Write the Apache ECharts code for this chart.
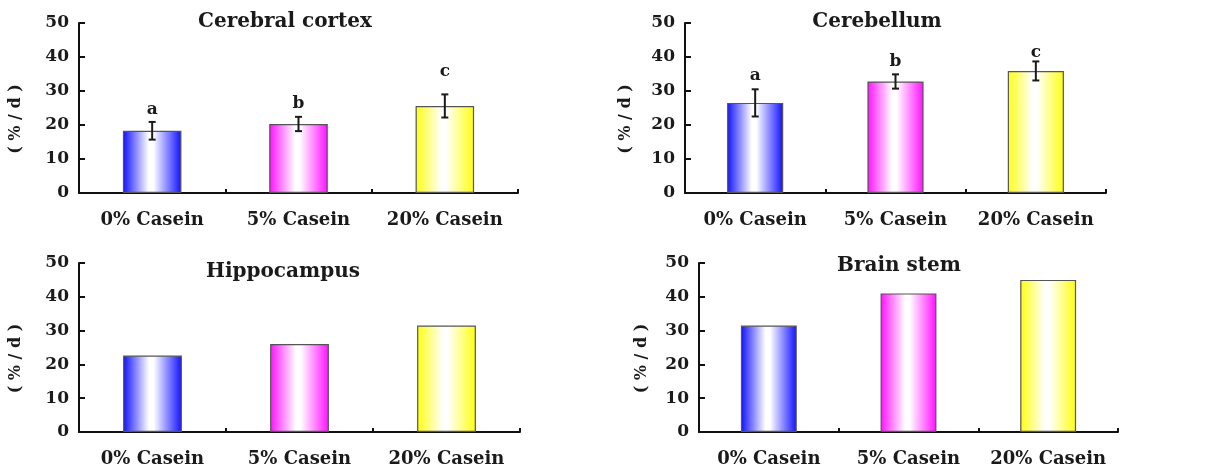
<!DOCTYPE html>
<html>
<head>
<meta charset="utf-8">
<script src="https://cdn.jsdelivr.net/npm/echarts@6/dist/echarts.min.js"></script>
<style>
html,body{margin:0;padding:0;background:#fff;}
#chart{width:1227px;height:470px;}
</style>
</head>
<body>
<div id="chart"></div>
<script>
const categories = ['0% Casein', '5% Casein', '20% Casein'];
const panelTitles = ['Cerebral cortex', 'Cerebellum', 'Hippocampus', 'Brain stem'];
const yAxisName = '( % / d )';
const yMin = 0, yMax = 50, yInterval = 10;

const cortexValues = [18.3, 20.3, 25.6];
const cortexErrors = [2.6, 2.1, 3.4];
const cortexLetters = ['a', 'b', 'c'];
const cortexLetterAt = [24.4, 26.2, 35.7];

const cerebellumValues = [26.5, 32.8, 35.9];
const cerebellumErrors = [4.0, 2.1, 2.8];
const cerebellumLetters = ['a', 'b', 'c'];
const cerebellumLetterAt = [34.4, 38.6, 41.3];

const hippocampusValues = [22.6, 26.0, 31.5];
const brainStemValues = [31.5, 41.0, 45.0];

const barColors = ['#1010ff', '#ff10ff', '#ffff10'];

const FONT = '"DejaVu Serif", "Liberation Serif", serif';

const grids = [
  { left: 79, right: 709, top: 23, bottom: 277 },
  { left: 685, right: 121, top: 23, bottom: 277 },
  { left: 79, right: 707, top: 263, bottom: 38 },
  { left: 699, right: 109, top: 263, bottom: 38 }
];
const titlePos = [[285, 22], [877, 22], [283, 272], [899, 266]];
const nameGaps = [55, 51, 55, 49];

function gradient(c) {
  return new echarts.graphic.LinearGradient(0, 0, 1, 0, [
    { offset: 0, color: c },
    { offset: 0.44, color: '#ffffff' },
    { offset: 0.52, color: '#ffffff' },
    { offset: 1, color: c }
  ]);
}

function barSeries(gi, values) {
  return {
    type: 'bar', xAxisIndex: gi, yAxisIndex: gi,
    barWidth: '40%',
    data: values.map((v, i) => ({
      value: v,
      itemStyle: { color: gradient(barColors[i]), borderColor: '#555', borderWidth: 1.2 }
    })),
    silent: true
  };
}

function errorSeries(gi, values, errors, letters, letterAt) {
  return {
    type: 'custom', xAxisIndex: gi, yAxisIndex: gi, silent: true, z: 5,
    data: values.map((v, i) => [i, v - errors[i], v + errors[i], letterAt[i]]),
    renderItem: function (params, api) {
      const lo = api.coord([api.value(0), api.value(1)]);
      const hi = api.coord([api.value(0), api.value(2)]);
      const lt = api.coord([api.value(0), api.value(3)]);
      const cap = 3.5;
      const st = { stroke: '#1a1a1a', lineWidth: 2 };
      return {
        type: 'group',
        children: [
          { type: 'line', shape: { x1: lo[0], y1: lo[1], x2: hi[0], y2: hi[1] }, style: st },
          { type: 'line', shape: { x1: lo[0] - cap, y1: lo[1], x2: lo[0] + cap, y2: lo[1] }, style: st },
          { type: 'line', shape: { x1: hi[0] - cap, y1: hi[1], x2: hi[0] + cap, y2: hi[1] }, style: st },
          { type: 'text', x: lt[0], y: lt[1], style: {
              text: letters[params.dataIndex], align: 'center', verticalAlign: 'middle',
              font: 'bold 17px ' + FONT, fill: '#1a1a1a' } }
        ]
      };
    }
  };
}

const xAxes = grids.map((g, i) => ({
  type: 'category', gridIndex: i, data: categories,
  axisLine: { lineStyle: { color: '#111', width: 2 } },
  axisTick: { show: true, inside: true, interval: 0, length: 4, lineStyle: { color: '#111', width: 2 } },
  axisLabel: { interval: 0, hideOverlap: false, color: '#1a1a1a', fontFamily: FONT, fontWeight: 'bold', fontSize: 18, margin: 18 },
  splitLine: { show: false }
}));
const yAxes = grids.map((g, i) => ({
  type: 'value', gridIndex: i, min: yMin, max: yMax, interval: yInterval,
  name: yAxisName, nameLocation: 'middle', nameGap: nameGaps[i], nameRotate: 90,
  nameTextStyle: { color: '#1a1a1a', fontFamily: FONT, fontWeight: 'bold', fontSize: 16, padding: [0, 0, 0, -22] },
  axisLine: { show: true, lineStyle: { color: '#111', width: 2 } },
  axisTick: { show: true, inside: true, length: 6, lineStyle: { color: '#111', width: 2 } },
  axisLabel: { color: '#1a1a1a', fontFamily: FONT, fontWeight: 'bold', fontSize: 17, margin: 10 },
  splitLine: { show: false }
}));

const option = {
  animation: false,
  backgroundColor: '#fff',
  grid: grids,
  xAxis: xAxes,
  yAxis: yAxes,
  graphic: panelTitles.map((t, i) => ({
    type: 'text', x: titlePos[i][0], y: titlePos[i][1], silent: true,
    style: { text: t, align: 'center', verticalAlign: 'middle', font: 'bold 20px ' + FONT, fill: '#1a1a1a' }
  })),
  series: [
    barSeries(0, cortexValues),
    errorSeries(0, cortexValues, cortexErrors, cortexLetters, cortexLetterAt),
    barSeries(1, cerebellumValues),
    errorSeries(1, cerebellumValues, cerebellumErrors, cerebellumLetters, cerebellumLetterAt),
    barSeries(2, hippocampusValues),
    barSeries(3, brainStemValues)
  ]
};
const chart = echarts.init(document.getElementById('chart'), null, { renderer: 'canvas' });
chart.setOption(option);
</script>
</body>
</html>
